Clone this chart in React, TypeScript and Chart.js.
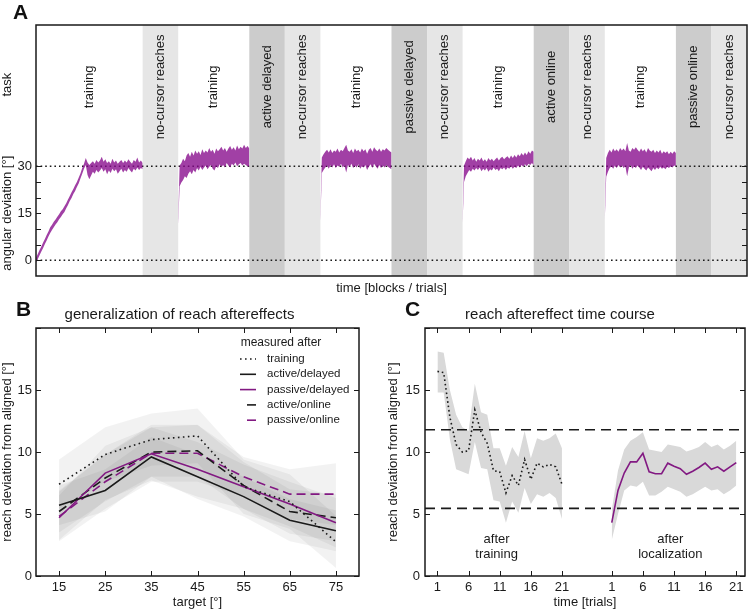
import React, { useEffect, useRef } from 'react';
import { Chart, registerables } from 'chart.js';

Chart.register(...registerables);

const FONT = "'Liberation Sans', Arial, Helvetica, sans-serif";
const INK = '#1a1a1a';
const PURPLE = 'rgb(130, 25, 130)';
const BAND_A = 'rgba(135, 10, 140, 0.78)';
Chart.defaults.font.family = FONT;
Chart.defaults.color = INK;

// ---------------- Panel A data ----------------
const blockNames = ['training', 'no-cursor reaches', 'training', 'active delayed', 'no-cursor reaches', 'training', 'passive delayed', 'no-cursor reaches', 'training', 'active online', 'no-cursor reaches', 'training', 'passive online', 'no-cursor reaches'];
const blockWidths = [3, 1, 2, 1, 1, 2, 1, 1, 2, 1, 1, 2, 1, 1];
const blockShades = ['none', 'light', 'none', 'dark', 'light', 'none', 'dark', 'light', 'none', 'dark', 'light', 'none', 'dark', 'light'];
const aYTicks = [0, 5, 10, 15, 20, 25, 30];
const aYLabeled = [0, 15, 30];
const aRefLevels = [0, 30];
const aXMin = 0;
const aXMax = 20;

const trainStarts = [0, 4, 8, 12, 16];
const trainEnds = [3, 6, 10, 14, 18];
const trainFirstLow = [NaN, 11.5, 12.5, 11.9, 12.9];
const trainFirstHigh = [NaN, 13.5, 14.5, 13.5, 15.0];

const trainUpper1 = [0.8, 2.0, 3.3, 4.4, 5.7, 6.8, 8.1, 9.2, 10.5, 11.3, 12.3, 13.0, 13.9, 14.7, 15.6, 16.3, 17.2, 18.2, 19.4, 20.5, 21.7, 22.7, 23.9, 25.0, 26.3, 27.7, 29.4, 30.8, 32.6,
  31.2, 30.4, 31.0, 31.6, 30.8, 32.0, 31.2, 31.8, 33.0, 31.4, 32.2, 31.0, 31.6, 30.8, 32.4, 31.2, 31.8, 30.8, 31.4, 32.0, 31.0, 31.8, 31.2, 32.2, 31.4, 30.8, 32.0, 31.4, 32.8, 31.2, 31.8, 31.0];
const trainLower1 = [-0.8, 0.4, 1.6, 2.8, 3.9, 5.2, 6.3, 7.6, 8.7, 9.7, 10.5, 11.4, 12.1, 13.1, 13.8, 14.7, 15.4, 16.6, 17.6, 18.9, 19.9, 21.1, 22.1, 23.4, 24.5, 26.1, 27.6, 29.2, 30.4,
  27.2, 25.8, 27.0, 28.2, 27.6, 28.8, 28.0, 28.6, 29.4, 28.2, 29.0, 27.4, 28.6, 27.8, 29.2, 28.4, 29.0, 27.6, 28.4, 29.2, 28.0, 28.8, 28.2, 29.4, 28.6, 28.0, 29.2, 28.6, 29.6, 28.8, 29.4, 29.0];
const trainUpper2 = [30.2, 31.0, 32.4, 31.6, 33.4, 34.2, 33.0, 34.6, 33.4, 35.0, 34.0, 34.8, 33.6, 35.4, 34.2, 35.0, 34.4, 35.8, 34.6, 35.2, 34.0, 35.6, 34.8, 35.4, 36.2, 35.0, 35.8, 34.6, 35.6, 36.4, 35.2, 36.0, 35.0, 36.6, 35.4, 36.2, 35.6, 36.8, 35.8, 36.4, 35.6];
const trainLower2 = [23.6, 24.8, 25.6, 26.8, 26.2, 27.6, 28.4, 27.4, 28.8, 28.0, 29.4, 28.6, 29.8, 28.8, 29.6, 30.2, 29.0, 29.8, 30.4, 29.2, 28.6, 30.0, 29.4, 30.6, 29.8, 30.4, 29.6, 31.0, 30.2, 29.6, 30.8, 30.2, 31.2, 30.0, 30.6, 31.0, 30.2, 30.8, 30.4, 30.0, 29.8];
const trainUpper3 = [32.8, 33.8, 34.6, 35.2, 34.4, 35.4, 34.2, 35.0, 34.6, 35.6, 34.4, 35.2, 34.8, 35.8, 36.8, 35.0, 34.6, 35.4, 34.2, 35.6, 34.8, 35.2, 34.4, 35.6, 34.8, 35.4, 34.0, 35.2, 35.8, 34.6, 36.0, 35.2, 34.8, 35.6, 34.6, 35.4, 35.0, 35.8, 35.2, 34.8, 34.4];
const trainLower3 = [27.8, 28.8, 29.6, 30.2, 29.2, 30.4, 29.6, 30.6, 29.4, 30.2, 29.8, 30.8, 29.6, 30.2, 28.0, 30.4, 29.8, 30.8, 29.4, 30.2, 29.6, 30.6, 29.2, 30.0, 29.6, 30.4, 28.8, 29.8, 30.6, 29.4, 30.8, 30.0, 29.2, 30.4, 29.4, 30.2, 29.6, 30.4, 29.8, 29.4, 29.0];
const trainUpper4 = [30.2, 31.6, 32.8, 32.2, 33.0, 31.8, 32.6, 31.4, 32.4, 31.8, 32.8, 31.6, 32.2, 31.4, 32.6, 31.8, 32.4, 31.6, 32.2, 32.8, 31.8, 32.6, 33.0, 32.2, 32.8, 33.2, 32.4, 33.4, 32.6, 33.6, 32.8, 33.8, 33.2, 34.2, 33.4, 34.4, 33.6, 34.8, 34.0, 35.0, 34.6];
const trainLower4 = [25.0, 26.8, 27.8, 28.8, 28.2, 29.2, 28.6, 29.4, 28.8, 29.6, 28.4, 29.2, 28.6, 29.4, 28.2, 29.0, 28.6, 29.6, 28.8, 29.2, 28.4, 29.4, 29.0, 29.6, 28.8, 29.6, 29.2, 30.0, 29.2, 29.8, 29.4, 30.2, 29.6, 30.4, 29.8, 30.6, 30.0, 30.8, 30.4, 31.0, 30.2];
const trainUpper5 = [32.6, 34.2, 35.2, 34.4, 35.6, 34.8, 35.4, 34.6, 35.8, 35.0, 35.6, 34.8, 37.4, 35.0, 34.6, 35.8, 35.2, 36.0, 35.2, 34.6, 35.6, 34.8, 35.4, 34.4, 35.8, 35.0, 34.6, 35.2, 34.2, 35.0, 34.4, 35.2, 34.0, 34.8, 34.2, 34.8, 33.8, 34.6, 34.0, 34.8, 34.2];
const trainLower5 = [26.6, 28.2, 29.4, 30.0, 29.2, 30.2, 29.4, 30.4, 29.6, 30.2, 29.4, 30.0, 26.8, 29.6, 30.4, 29.2, 30.0, 29.4, 30.2, 29.6, 28.8, 29.8, 29.2, 28.6, 29.6, 29.0, 28.4, 29.4, 28.8, 29.6, 29.0, 29.8, 29.2, 29.6, 29.0, 29.8, 29.4, 30.0, 29.6, 30.2, 30.0];

// ---------------- Panel B data ----------------
const bTargets = [15, 25, 35, 45, 55, 65, 75];
const bYTicks = [0, 5, 10, 15, 20];
const bYLabeled = [0, 5, 10, 15];
const bSeriesNames = ['training', 'active/delayed', 'passive/delayed', 'active/online', 'passive/online'];
const bTraining = [7.4, 9.8, 11.0, 11.3, 7.2, 6.0, 2.75];
const bActiveDelayed = [5.7, 6.9, 9.6, 8.0, 6.4, 4.5, 3.65];
const bPassiveDelayed = [4.7, 8.3, 9.85, 8.6, 7.2, 5.8, 4.3];
const bActiveOnline = [5.2, 7.9, 10.0, 10.1, 7.3, 5.2, 4.7];
const bPassiveOnline = [4.8, 7.6, 9.9, 9.9, 8.0, 6.6, 6.6];
const bTrainingUp = [9.4, 12.0, 13.1, 13.5, 9.4, 8.2, 4.85];
const bTrainingLo = [5.4, 7.6, 8.9, 9.1, 5.0, 3.8, 0.65];
const bActiveDelayedUp = [7.3, 8.6, 11.2, 9.8, 8.0, 6.2, 5.3];
const bActiveDelayedLo = [4.1, 5.2, 8.0, 6.2, 4.8, 2.8, 2.0];
const bPassiveDelayedUp = [6.5, 10.5, 12.0, 10.8, 9.0, 7.6, 6.3];
const bPassiveDelayedLo = [2.9, 6.1, 7.7, 6.4, 5.4, 4.0, 2.3];
const bActiveOnlineUp = [6.9, 9.8, 12.0, 12.2, 9.2, 7.0, 6.6];
const bActiveOnlineLo = [3.5, 6.0, 8.0, 8.0, 5.4, 3.4, 2.8];
const bPassiveOnlineUp = [6.8, 9.8, 12.2, 12.2, 9.6, 8.6, 9.1];
const bPassiveOnlineLo = [2.8, 5.4, 7.6, 7.6, 6.4, 4.6, 4.1];

// ---------------- Panel C data ----------------
const cTrials = [1, 2, 3, 4, 5, 6, 7, 8, 9, 10, 11, 12, 13, 14, 15, 16, 17, 18, 19, 20, 21];
const cLocOffset = 28;
const cXMin = -1;
const cXMax = 50.4;
const cTickPositions = [1, 6, 11, 16, 21, 29, 34, 39, 44, 49];
const cTickLabels = ['1', '6', '11', '16', '21', '1', '6', '11', '16', '21'];
const cRefLevels = [11.8, 5.45];
const cAfterTraining = [16.5, 16.4, 12.8, 10.6, 10.0, 10.1, 13.4, 11.6, 10.7, 8.5, 8.4, 6.7, 8.1, 7.3, 9.4, 7.8, 9.1, 8.8, 9.0, 8.8, 7.4];
const cAfterTrainingUp = [18.1, 18.0, 15.0, 13.0, 12.0, 11.7, 15.5, 13.2, 13.0, 10.3, 10.3, 8.9, 10.4, 9.6, 11.7, 9.5, 11.1, 10.9, 11.1, 11.5, 10.3];
const cAfterTrainingLo = [14.8, 14.8, 11.0, 8.6, 8.4, 8.2, 10.8, 8.7, 8.6, 6.1, 6.0, 4.3, 6.0, 5.1, 7.1, 5.8, 6.6, 6.4, 6.7, 6.3, 4.6];
const cAfterLoc = [4.3, 6.9, 8.3, 9.2, 9.2, 9.9, 8.4, 8.25, 8.25, 9.1, 8.85, 8.65, 8.2, 8.45, 8.75, 9.1, 8.6, 8.8, 8.45, 8.8, 9.15];
const cAfterLocUp = [5.3, 8.5, 10.2, 10.9, 11.2, 11.6, 10.2, 10.1, 10.0, 10.6, 10.5, 10.4, 10.05, 10.2, 10.4, 10.8, 10.4, 10.6, 10.2, 10.5, 10.9];
const cAfterLocLo = [2.9, 5.0, 6.9, 7.3, 7.2, 7.6, 6.5, 6.5, 6.8, 7.2, 7.0, 6.8, 6.4, 6.6, 6.9, 7.2, 6.9, 7.0, 6.6, 6.9, 7.3];
const cTextTraining = ['after', 'training'];
const cTextLoc = ['after', 'localization'];

// ---------------- helpers ----------------
const TRANSPARENT = 'rgba(0,0,0,0)';

function bandPair(up: { x: number; y: number }[], lo: { x: number; y: number }[], color: string, order: number) {
  return [
    { data: up, fill: '+1', backgroundColor: color, borderColor: TRANSPARENT, borderWidth: 0, pointRadius: 0, order },
    { data: lo, fill: false, backgroundColor: color, borderColor: TRANSPARENT, borderWidth: 0, pointRadius: 0, order },
  ];
}

function framePlugin(xTicks: number[], yTicks: number[]) {
  return {
    id: 'frame',
    afterDatasetsDraw(chart: any) {
      const { ctx, chartArea: a, scales } = chart;
      const L = 5;
      ctx.save();
      ctx.strokeStyle = INK;
      ctx.lineWidth = 1;
      ctx.beginPath();
      yTicks.forEach((v) => {
        const y = Math.round(scales.y.getPixelForValue(v)) + 0.5;
        ctx.moveTo(a.left, y); ctx.lineTo(a.left + L, y);
        ctx.moveTo(a.right, y); ctx.lineTo(a.right - L, y);
      });
      xTicks.forEach((v) => {
        const x = Math.round(scales.x.getPixelForValue(v)) + 0.5;
        ctx.moveTo(x, a.top); ctx.lineTo(x, a.top + L);
        ctx.moveTo(x, a.bottom); ctx.lineTo(x, a.bottom - L);
      });
      ctx.stroke();
      ctx.lineWidth = 1.5;
      ctx.strokeRect(a.left, a.top, a.right - a.left, a.bottom - a.top);
      ctx.restore();
    },
  };
}

const noGrid = { display: false, drawTicks: false };
const noBorder = { display: false };

// ---------------- Panel A config ----------------
function configA(): any {
  const datasets: any[] = [];
  aRefLevels.forEach((v) => {
    datasets.push({
      data: [{ x: aXMin, y: v }, { x: aXMax, y: v }],
      borderColor: INK, borderWidth: 1.6, borderDash: [1.6, 3], pointRadius: 0, fill: false, order: 3,
    });
  });
  const uppers = [trainUpper1, trainUpper2, trainUpper3, trainUpper4, trainUpper5];
  const lowers = [trainLower1, trainLower2, trainLower3, trainLower4, trainLower5];
  uppers.forEach((up, k) => {
    const lo = lowers[k];
    const n = Math.min(up.length, lo.length);
    const start = trainStarts[k];
    const end = trainEnds[k];
    const hasFirst = !isNaN(trainFirstLow[k]);
    const g0 = hasFirst ? start + 0.04 : start;
    const step = (end - g0) / (n - 1);
    const upPts: any[] = [];
    const loPts: any[] = [];
    if (hasFirst) {
      upPts.push({ x: start, y: trainFirstHigh[k] });
      loPts.push({ x: start, y: trainFirstLow[k] });
    }
    for (let i = 0; i < n; i++) {
      upPts.push({ x: g0 + i * step, y: up[i] });
      loPts.push({ x: g0 + i * step, y: lo[i] });
    }
    datasets.push(...bandPair(upPts, loPts, BAND_A, 1));
  });

  const blocks = {
    id: 'blocks',
    beforeDatasetsDraw(chart: any) {
      const { ctx, chartArea: a, scales } = chart;
      ctx.save();
      let s = aXMin;
      blockNames.forEach((name, i) => {
        const e = s + blockWidths[i];
        const x0 = scales.x.getPixelForValue(s);
        const x1 = scales.x.getPixelForValue(e);
        if (blockShades[i] !== 'none') {
          ctx.fillStyle = blockShades[i] === 'dark' ? '#cccccc' : '#e6e6e6';
          ctx.fillRect(x0, a.top, x1 - x0, a.bottom - a.top);
        }
        ctx.save();
        ctx.translate((x0 + x1) / 2, scales.y.getPixelForValue(55.3));
        ctx.rotate(-Math.PI / 2);
        ctx.fillStyle = INK;
        ctx.font = `13px ${FONT}`;
        ctx.textAlign = 'center';
        ctx.textBaseline = 'middle';
        ctx.fillText(name, 0, 0);
        ctx.restore();
        s = e;
      });
      ctx.fillStyle = INK;
      ctx.font = `13px ${FONT}`;
      ctx.textAlign = 'center';
      ctx.textBaseline = 'middle';
      [['angular deviation [°]', 15], ['task', 56]].forEach(([t, v]) => {
        ctx.save();
        ctx.translate(7, scales.y.getPixelForValue(v as number));
        ctx.rotate(-Math.PI / 2);
        ctx.fillText(t as string, 0, 0);
        ctx.restore();
      });
      ctx.restore();
    },
  };

  return {
    type: 'line',
    data: { datasets },
    options: {
      responsive: false,
      animation: false,
      layout: { padding: { top: 25, right: 3, left: 0, bottom: 0 } },
      plugins: { legend: { display: false }, tooltip: { enabled: false }, title: { display: false } },
      scales: {
        x: {
          type: 'linear', min: aXMin, max: aXMax,
          grid: noGrid, border: noBorder,
          ticks: { display: false },
          title: { display: true, text: 'time [blocks / trials]', font: { size: 13 }, color: INK, padding: { top: 0, bottom: 4 } },
          afterFit: (s: any) => { s.height = 24; },
        },
        y: {
          type: 'linear', min: -5, max: 75,
          grid: noGrid, border: noBorder,
          afterBuildTicks: (s: any) => { s.ticks = aYTicks.map((v) => ({ value: v })); },
          ticks: {
            autoSkip: false, padding: 4, font: { size: 13 }, color: INK,
            callback: (v: number) => (aYLabeled.includes(v) ? String(v) : ''),
          },
          afterFit: (s: any) => { s.width = 36; },
        },
      },
    },
    plugins: [blocks, framePlugin([], aYTicks)],
  };
}

// ---------------- Panel B config ----------------
function configB(): any {
  const means = [bTraining, bActiveDelayed, bPassiveDelayed, bActiveOnline, bPassiveOnline];
  const ups = [bTrainingUp, bActiveDelayedUp, bPassiveDelayedUp, bActiveOnlineUp, bPassiveOnlineUp];
  const los = [bTrainingLo, bActiveDelayedLo, bPassiveDelayedLo, bActiveOnlineLo, bPassiveOnlineLo];
  const colors = [INK, INK, PURPLE, INK, PURPLE];
  const dashes = [[1.6, 3.4], [], [], [9, 5], [9, 5]];
  const pts = (arr: number[]) => arr.map((y, i) => ({ x: bTargets[i], y }));
  const datasets: any[] = [];
  means.forEach((m, i) => {
    datasets.push({
      label: bSeriesNames[i], data: pts(m), borderColor: colors[i], borderDash: dashes[i], borderWidth: 1.6,
      pointRadius: 0, fill: false, tension: 0, order: 0,
    });
  });
  ups.forEach((u, i) => datasets.push(...bandPair(pts(u), pts(los[i]), 'rgba(0,0,0,0.05)', 5)));

  const legend = {
    id: 'bLegend',
    afterDraw(chart: any) {
      const { ctx, chartArea: a } = chart;
      ctx.save();
      ctx.fillStyle = INK;
      ctx.font = `12px ${FONT}`;
      ctx.textAlign = 'center';
      ctx.textBaseline = 'middle';
      ctx.fillText('measured after', a.right - 78, a.top + 15);
      bSeriesNames.forEach((name, i) => {
        const y = a.top + 31 + i * 15.3;
        ctx.strokeStyle = colors[i];
        ctx.lineWidth = 1.6;
        ctx.setLineDash(dashes[i]);
        ctx.beginPath();
        const x0 = dashes[i].length === 2 && dashes[i][0] > 5 ? a.right - 112 : a.right - 119;
        ctx.moveTo(x0, y);
        ctx.lineTo(a.right - 103, y);
        ctx.stroke();
        ctx.setLineDash([]);
        ctx.font = `11.5px ${FONT}`;
        ctx.textAlign = 'left';
        ctx.fillText(name, a.right - 92, y);
      });
      ctx.restore();
    },
  };

  return {
    type: 'line',
    data: { datasets },
    options: {
      responsive: false,
      animation: false,
      layout: { padding: { top: 0, right: 16, left: 0, bottom: 0 } },
      plugins: {
        legend: { display: false }, tooltip: { enabled: false },
        title: { display: true, text: 'generalization of reach aftereffects', font: { size: 15, weight: 'normal' }, color: INK, padding: { top: 6, bottom: 4 } },
      },
      scales: {
        x: {
          type: 'linear', min: 10, max: 80,
          grid: noGrid, border: noBorder,
          afterBuildTicks: (s: any) => { s.ticks = bTargets.map((v) => ({ value: v })); },
          ticks: { autoSkip: false, maxRotation: 0, padding: 4, font: { size: 13 }, color: INK },
          title: { display: true, text: 'target [°]', font: { size: 13 }, color: INK, padding: { top: 0, bottom: 2 } },
          afterFit: (s: any) => { s.height = 36; },
        },
        y: {
          type: 'linear', min: 0, max: 20,
          grid: noGrid, border: noBorder,
          afterBuildTicks: (s: any) => { s.ticks = bYTicks.map((v) => ({ value: v })); },
          ticks: {
            autoSkip: false, padding: 4, font: { size: 13 }, color: INK,
            callback: (v: number) => (bYLabeled.includes(v) ? String(v) : ''),
          },
          title: { display: true, text: 'reach deviation from aligned [°]', font: { size: 13 }, color: INK, padding: { top: 0, bottom: 0 } },
          afterFit: (s: any) => { s.width = 36; },
        },
      },
    },
    plugins: [framePlugin(bTargets, bYTicks), legend],
  };
}

// ---------------- Panel C config ----------------
function configC(): any {
  const trainPts = (arr: number[]) => arr.map((y, i) => ({ x: cTrials[i], y }));
  const locPts = (arr: number[]) => arr.map((y, i) => ({ x: cTrials[i] + cLocOffset, y }));
  const datasets: any[] = [];
  cRefLevels.forEach((v) => {
    datasets.push({
      data: [{ x: cXMin, y: v }, { x: cXMax, y: v }],
      borderColor: INK, borderWidth: 1.6, borderDash: [10, 6], pointRadius: 0, fill: false, order: 0,
    });
  });
  datasets.push({
    data: trainPts(cAfterTraining), borderColor: INK, borderWidth: 1.6, borderDash: [1.6, 2.8],
    pointRadius: 0, fill: false, tension: 0, order: 1,
  });
  datasets.push({
    data: locPts(cAfterLoc), borderColor: PURPLE, borderWidth: 1.6,
    pointRadius: 0, fill: false, tension: 0, order: 1,
  });
  datasets.push(...bandPair(trainPts(cAfterTrainingUp), trainPts(cAfterTrainingLo), '#d9d9d9', 5));
  datasets.push(...bandPair(locPts(cAfterLocUp), locPts(cAfterLocLo), '#d9d9d9', 5));

  const texts = {
    id: 'cTexts',
    afterDatasetsDraw(chart: any) {
      const { ctx, scales } = chart;
      ctx.save();
      ctx.fillStyle = INK;
      ctx.font = `13px ${FONT}`;
      ctx.textAlign = 'center';
      ctx.textBaseline = 'middle';
      const ys = [2.95, 1.7];
      cTextTraining.forEach((t, i) => ctx.fillText(t, scales.x.getPixelForValue(10.5), scales.y.getPixelForValue(ys[i])));
      cTextLoc.forEach((t, i) => ctx.fillText(t, scales.x.getPixelForValue(10.4 + cLocOffset), scales.y.getPixelForValue(ys[i])));
      ctx.restore();
    },
  };

  return {
    type: 'line',
    data: { datasets },
    options: {
      responsive: false,
      animation: false,
      layout: { padding: { top: 0, right: 5, left: 0, bottom: 0 } },
      plugins: {
        legend: { display: false }, tooltip: { enabled: false },
        title: { display: true, text: 'reach aftereffect time course', font: { size: 15, weight: 'normal' }, color: INK, padding: { top: 6, bottom: 4 } },
      },
      scales: {
        x: {
          type: 'linear', min: cXMin, max: cXMax,
          grid: noGrid, border: noBorder,
          afterBuildTicks: (s: any) => { s.ticks = cTickPositions.map((v) => ({ value: v })); },
          ticks: {
            autoSkip: false, maxRotation: 0, padding: 4, font: { size: 13 }, color: INK,
            callback: (v: number) => cTickLabels[cTickPositions.indexOf(v)],
          },
          title: { display: true, text: 'time [trials]', font: { size: 13 }, color: INK, padding: { top: 0, bottom: 2 } },
          afterFit: (s: any) => { s.height = 36; },
        },
        y: {
          type: 'linear', min: 0, max: 20,
          grid: noGrid, border: noBorder,
          afterBuildTicks: (s: any) => { s.ticks = bYTicks.map((v) => ({ value: v })); },
          ticks: {
            autoSkip: false, padding: 5, font: { size: 13 }, color: INK,
            callback: (v: number) => (bYLabeled.includes(v) ? String(v) : ''),
          },
          title: { display: true, text: 'reach deviation from aligned [°]', font: { size: 13 }, color: INK, padding: { top: 11, bottom: 0 } },
          afterFit: (s: any) => { s.width = 50; },
        },
      },
    },
    plugins: [framePlugin(cTickPositions, bYTicks), texts],
  };
}

const letterStyle = (left: number, top: number): React.CSSProperties => ({
  position: 'absolute', left, top, font: `bold 21px ${FONT}`, lineHeight: '21px', color: '#111',
});

export default function App() {
  const aRef = useRef<HTMLCanvasElement>(null);
  const bRef = useRef<HTMLCanvasElement>(null);
  const cRef = useRef<HTMLCanvasElement>(null);

  useEffect(() => {
    const charts = [
      new Chart(aRef.current as HTMLCanvasElement, configA()),
      new Chart(bRef.current as HTMLCanvasElement, configB()),
      new Chart(cRef.current as HTMLCanvasElement, configC()),
    ];
    return () => charts.forEach((c) => c.destroy());
  }, []);

  return (
    <div style={{ position: 'absolute', left: 0, top: 0, width: 750, height: 612, background: '#fff', overflow: 'hidden' }}>
      <canvas ref={aRef} width={750} height={300} style={{ position: 'absolute', left: 0, top: 0, width: 750, height: 300 }} />
      <canvas ref={bRef} width={375} height={312} style={{ position: 'absolute', left: 0, top: 300, width: 375, height: 312 }} />
      <canvas ref={cRef} width={375} height={312} style={{ position: 'absolute', left: 375, top: 300, width: 375, height: 312 }} />
      <div style={letterStyle(13, 1)}>A</div>
      <div style={letterStyle(16, 298)}>B</div>
      <div style={letterStyle(405, 298)}>C</div>
    </div>
  );
}
